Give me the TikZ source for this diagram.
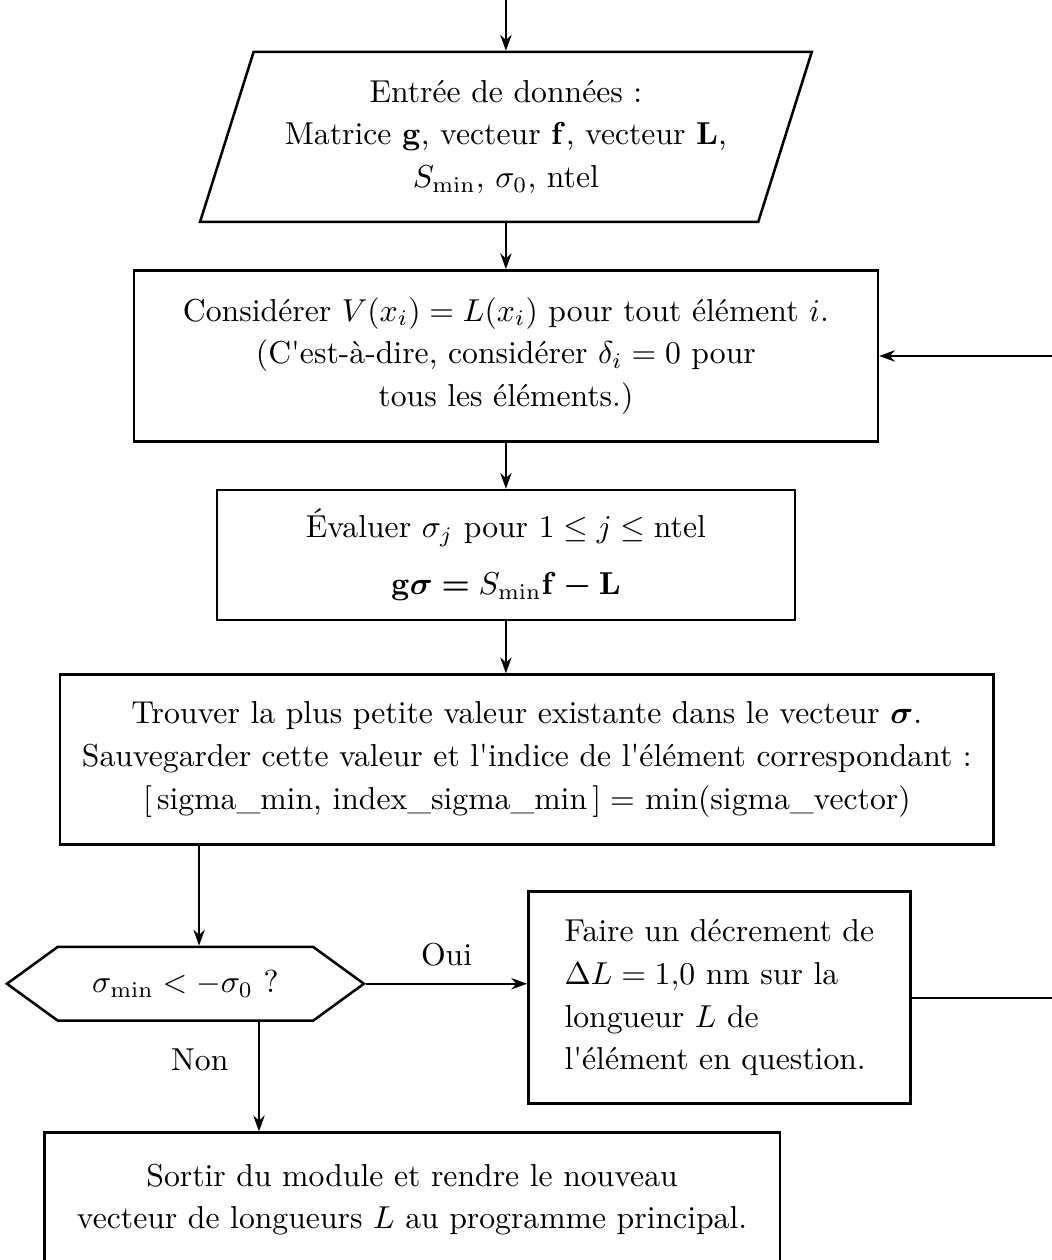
\documentclass[tikz,border=0pt]{standalone}
\usepackage{amsmath}
\usetikzlibrary{positioning,arrows.meta,shapes.geometric,shapes.symbols}

\begin{document}
\begin{tikzpicture}[every node/.style={font=\fontsize{10pt}{13.5pt}\selectfont},
    flow/.style={-{Stealth[length=5pt,width=3.6pt]}, semithick},
    stepbox/.style={draw, thick, align=center},
    io/.style={trapezium, trapezium left angle=70, trapezium right angle=110,
      trapezium stretches=true, draw, thick, align=center},
    test/.style={signal, signal to=west and east, signal pointer angle=72, draw, thick}]
    \useasboundingbox (0,0) rectangle (331.6pt,-397.5pt);
    \node[io, minimum width=193pt, minimum height=53.6pt] (entree) at (159.6pt,-43.2pt)
      {Entrée de données :\\ Matrice $\mathbf{g}$, vecteur $\mathbf{f}$, vecteur $\mathbf{L}$,\\ $S_{\min}$, $\sigma_0$, ntel};
    \node[stepbox, minimum width=234.7pt, minimum height=54pt, below=14.5pt of entree] (considerer)
      {Considérer $V(x_i) = L(x_i)$ pour tout élément $i$.\\ (C\textquotesingle est-à-dire, considérer $\delta_i = 0$ pour\\ tous les éléments.)};
    \node[stepbox, minimum width=182.4pt, minimum height=41pt, below=14.5pt of considerer] (evaluer)
      {Évaluer $\sigma_j$ pour $1 \le j \le \mathrm{ntel}$\\[4.5pt]
       $\mathbf{g}\boldsymbol{\sigma} \mathrel{\boldsymbol{=}} S_{\min}\mathbf{f} \mathbin{\boldsymbol{-}} \mathbf{L}$};
    \node[stepbox, minimum width=294.4pt, minimum height=53.6pt, below=16.4pt of evaluer, xshift=6.6pt] (trouver)
      {Trouver la plus petite valeur existante dans le vecteur $\boldsymbol{\sigma}$.\\
       Sauvegarder cette valeur et l\textquotesingle indice de l\textquotesingle élément correspondant :\\
       $[\,$sigma\_min, index\_sigma\_min$\,] =$ min(sigma\_vector)};
    \node[test, minimum width=112.6pt, minimum height=23.3pt, below=31.5pt of trouver.south west, xshift=39.9pt] (test)
      {$\sigma_{\min} < -\sigma_0$ ?};
    \node[stepbox, align=left, minimum width=120.5pt, minimum height=66.9pt, right=50.8pt of test, yshift=-4.4pt] (faire)
      {Faire un décrement de\\ $\Delta L = 1{,}0$ nm sur la\\ longueur $L$ de\\ l\textquotesingle élément en question.};
    \node[stepbox, minimum width=232pt, minimum height=42.3pt, below=34.5pt of test, xshift=71.5pt] (sortir)
      {Sortir du module et rendre le nouveau\\ vecteur de longueurs $L$ au programme principal.};
    \coordinate[above=20pt of entree.north] (debut);

    \draw[flow] (debut) -- (entree.north);
    \draw[flow] (entree.south) -- (considerer.north);
    \draw[flow] (considerer.south) -- (evaluer.north);
    \draw[flow] (evaluer.south) -- (evaluer.south |- trouver.north);
    \draw[flow] ([xshift=4.3pt]test.north |- trouver.south) -- ([xshift=4.3pt]test.north);
    \draw[flow] (test.east) -- node[above, yshift=2pt] {Oui} (test.east -| faire.west);
    \draw[flow] ([xshift=23.2pt]test.south) -- node[pos=0.35, left=6pt] {Non} ([xshift=23.2pt]test.south |- sortir.north);
    \draw[flow] (faire.east) -- ++(47pt,0) |- (considerer.east);
  \end{tikzpicture}
\end{document}
